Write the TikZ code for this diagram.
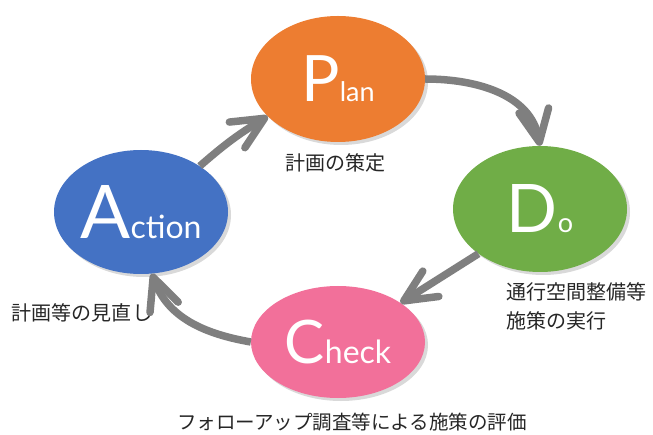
\documentclass[tikz,border=0pt]{standalone}
\usepackage{fontspec}
\setmainfont{Lato}
\newfontfamily\jp{Noto Sans CJK JP}
\usetikzlibrary{arrows.meta,shapes.geometric,shadows}

\definecolor{planorange}{HTML}{ED7D31}
\definecolor{dogreen}{HTML}{70AD47}
\definecolor{checkpink}{HTML}{F2709A}
\definecolor{actblue}{HTML}{4472C4}
\definecolor{arrowgray}{HTML}{7F7F7F}
\definecolor{notegray}{HTML}{262626}

\begin{document}
\begin{tikzpicture}[x=1pt,y=-1pt,
    phase/.style={ellipse,inner sep=0pt,minimum width=174pt,minimum height=126pt,text=white,
      drop shadow={shadow xshift=3pt,shadow yshift=-3pt,opacity=0.3}},
    cycle/.style={draw=arrowgray,line width=7.5pt,-{Straight Barb[length=32pt,width=30pt,round]}},
    note/.style={inner sep=0pt,text=notegray,font=\jp\fontsize{20}{29}\selectfont}]
    \useasboundingbox (0,0) rectangle (653,435);

    \node[phase,fill=planorange] (P) at (338,79) {\fontsize{64}{64}\selectfont P\fontsize{27}{27}\selectfont lan};
    \node[phase,fill=dogreen] (D) at (540,209) {\fontsize{67}{67}\selectfont D\fontsize{27}{27}\selectfont o};
    \node[phase,fill=checkpink,minimum height=112pt] (C) at (338,342) {\fontsize{60}{60}\selectfont C\fontsize{32}{32}\selectfont heck};
    \node[phase,fill=actblue,minimum height=124pt] (A) at (141,212) {\fontsize{74}{74}\selectfont A\fontsize{32}{32}\selectfont ction};

    \draw[cycle] (P.east) to[out=0,in=100] (D.north);
    \draw[cycle] (D.216) -- (C.32);
    \draw[cycle] (C.west) to[out=170,in=-70] (A.-80);
    \draw[cycle] (A.38) to[bend left=5] (P.208);

    \node[note] (pnote) at (335,163) {計画の策定};
    \node[note,align=left,anchor=north west] (dnote) at (506,282) {通行空間整備等\\施策の実行};
    \node[note] (anote) at (82,313) {計画等の見直し};
    \node[note,font=\jp\fontsize{19.5}{24}\selectfont] (cnote) at (352,422) {フォローアップ調査等による施策の評価};
\end{tikzpicture}
\end{document}
